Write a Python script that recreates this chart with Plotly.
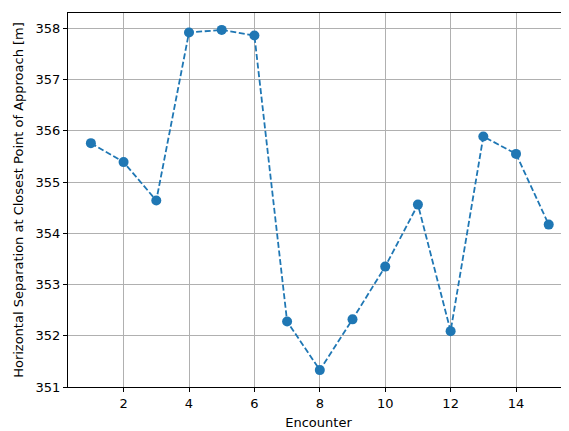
import plotly.graph_objects as go

encounters = list(range(1, 16))
separation = [355.76, 355.39, 354.64, 357.92, 357.97, 357.86, 352.28, 351.33,
              352.32, 353.35, 354.56, 352.09, 355.89, 355.55, 354.17]
x_ticks = [2, 4, 6, 8, 10, 12, 14]
y_ticks = [351, 352, 353, 354, 355, 356, 357, 358]

fig = go.Figure()
fig.add_trace(go.Scatter(
    x=encounters, y=separation, mode="lines+markers",
    line=dict(color="#1f77b4", width=1.8, dash="6px,2.6px"),
    marker=dict(color="#1f77b4", size=10),
    showlegend=False,
))

font = dict(family="DejaVu Sans", size=13, color="black")
# page body has an 8px default margin, so the figure is 8px smaller and offset
fig.update_layout(
    width=561, height=423,
    margin=dict(l=60, r=0, t=5, b=44, autoexpand=False),
    paper_bgcolor="white", plot_bgcolor="white",
    font=font,
    xaxis=dict(
        range=[0.30, 15.62], tickvals=x_ticks, ticks="outside", ticklen=4,
        tickcolor="black", showline=True, linecolor="black", linewidth=1,
        mirror=True, showgrid=True, gridcolor="#b0b0b0", gridwidth=1,
        zeroline=False, automargin=False,
        title=dict(text="Encounter", standoff=8, font=font),
    ),
    yaxis=dict(
        range=[351.0, 358.30], tickvals=y_ticks, ticks="outside", ticklen=4,
        tickcolor="black", showline=True, linecolor="black", linewidth=1,
        mirror=True, showgrid=True, gridcolor="#b0b0b0", gridwidth=1,
        zeroline=False, automargin=False,
        title=dict(text="Horizontal Separation at Closest Point of Approach [m]",
                   standoff=9, font=font),
    ),
)

fig.write_html("out.html")
